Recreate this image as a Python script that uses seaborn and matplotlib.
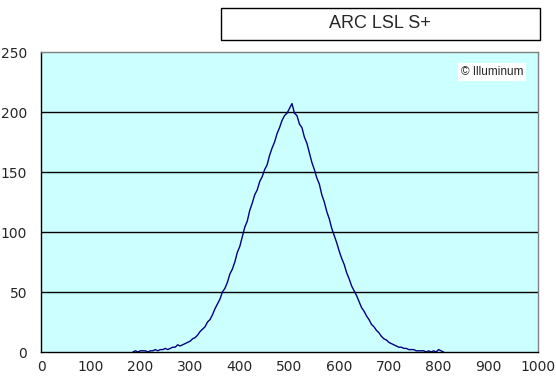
import matplotlib
matplotlib.use("Agg")
import matplotlib.pyplot as plt
import matplotlib.patches as patches
import seaborn as sns
import pandas as pd

# values, step 5 on the x axis
x_vals = list(range(185, 815, 5))
counts = [
    0, 1, 0, 1, 1, 1, 0, 1, 1, 2,
    1, 2, 2, 3, 2, 3, 4, 4, 6, 5,
    6, 7, 8, 9, 11, 12, 14, 17, 19, 21,
    25, 27, 31, 36, 40, 44, 50, 53, 58, 65,
    69, 75, 83, 88, 96, 104, 109, 118, 124, 131,
    135, 142, 146, 152, 156, 164, 170, 175, 182, 187,
    193, 197, 199, 203, 207, 199, 197, 190, 187, 179,
    174, 166, 158, 152, 145, 140, 131, 125, 117, 111,
    103, 97, 91, 84, 78, 73, 66, 61, 55, 51,
    47, 42, 37, 34, 30, 27, 23, 21, 18, 16,
    13, 11, 10, 8, 7, 6, 5, 4, 4, 3,
    3, 2, 2, 2, 1, 1, 1, 1, 0, 1,
    0, 1, 0, 2, 1, 0,
]
x_ticks = list(range(0, 1001, 100))
y_ticks = [0, 50, 100, 150, 200, 250]
title = "ARC LSL S+"
watermark = "© Illuminum"

df = pd.DataFrame({"x": x_vals[:len(counts)], "count": counts})

sns.set_style("white")
tick_font = ["Liberation Sans Narrow", "DejaVu Sans"]

W, H = 556, 383
fig = plt.figure(figsize=(W / 100, H / 100), dpi=100)
fig.patch.set_facecolor("white")
ax = fig.add_axes([41 / W, (H - 352) / H, 497 / W, 300 / H])
ax.set_facecolor("#CCFFFF")

sns.lineplot(data=df, x="x", y="count", ax=ax, color="#000080", linewidth=1.0)

ax.set_xlim(0, 1000)
ax.set_ylim(0, 250)
ax.set_xticks(x_ticks)
ax.set_yticks(y_ticks)
ax.set_xlabel("")
ax.set_ylabel("")
for lab in ax.get_xticklabels() + ax.get_yticklabels():
    lab.set_family(tick_font)
    lab.set_fontsize(10)
ax.tick_params(axis="x", direction="in", length=4, width=1, color="black", pad=6)
ax.tick_params(axis="y", direction="out", length=4, width=1, color="black", pad=6)

for yv in y_ticks[1:-1]:
    ax.axhline(yv, color="black", linewidth=1, zorder=1)

ax.spines["left"].set_color("black")
ax.spines["bottom"].set_color("black")
ax.spines["top"].set_color("#808080")
ax.spines["right"].set_color("#808080")
for s in ax.spines.values():
    s.set_linewidth(1)
    s.set_visible(True)

# title box
fig.patches.append(patches.Rectangle((221 / W, 1 - 40 / H), 319 / W, 32 / H,
                                     transform=fig.transFigure, facecolor="white",
                                     edgecolor="black", linewidth=1))
fig.text(380 / W, 1 - 24 / H, title, ha="center", va="center",
         fontsize=13, family=["Liberation Sans", "DejaVu Sans"])

# watermark
ax.text(492 / W, 1 - 72 / H, watermark, transform=fig.transFigure, ha="center", va="center",
        fontsize=8.5, family=["Liberation Sans", "DejaVu Sans"],
        bbox=dict(facecolor="white", edgecolor="none", pad=2))

fig.savefig("out.png", dpi=100)
